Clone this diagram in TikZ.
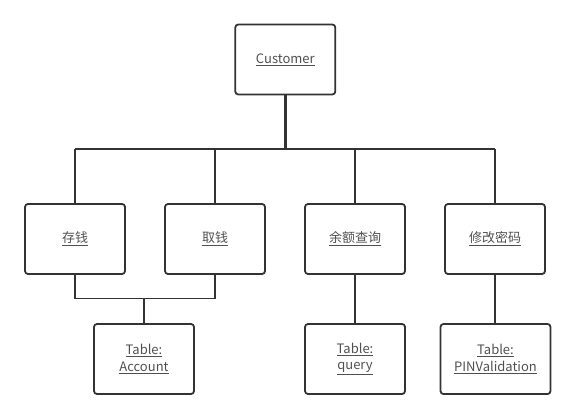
\documentclass[tikz,border=0pt]{standalone}
\usepackage{fontspec}
\setmainfont{Noto Sans CJK SC}
\definecolor{linec}{HTML}{333333}
\definecolor{textc}{HTML}{505050}
\newcommand{\ul}[1]{\underline{#1}}
\begin{document}
\begin{tikzpicture}[x=1pt,y=-1pt,
  box/.style={draw=linec,line width=1.8pt,rounded corners=3pt,minimum width=100pt,minimum height=70pt,inner sep=0pt,text=textc,font=\fontsize{13}{16.5}\selectfont,align=center,anchor=center},
  conn/.style={draw=linec,line width=1.6pt},
  stem/.style={draw=linec,line width=2.6pt}]
\useasboundingbox (0,0) rectangle (575,419);
\node[box] (cust) at (285.3,59.5) {\ul{Customer}};
\node[box] (cq) at (75,239) {\ul{存钱}};
\node[box] (qq) at (215,239) {\ul{取钱}};
\node[box] (ye) at (355,239) {\ul{余额查询}};
\node[box] (xg) at (495,239) {\ul{修改密码}};
\node[box] (acc) at (144,359) {\ul{Table:}\\\ul{Account}};
\node[box] (qry) at (355,359) {\ul{Table:}\\\ul{query}};
\node[box,minimum width=110pt] (pin) at (495.5,359) {\ul{Table:}\\\ul{PINValidation}};
\coordinate (bus) at (285.3,149);
\coordinate (busL) at (75,149);
\coordinate (busR) at (495,149);
\coordinate (join) at (144,298.5);
\draw[stem] (cust.south) -- (bus);
\draw[conn] (busL) -- (busR);
\draw[conn] (cq.north) -- (cq.north |- bus);
\draw[conn] (qq.north) -- (qq.north |- bus);
\draw[conn] (ye.north) -- (ye.north |- bus);
\draw[conn] (xg.north) -- (xg.north |- bus);
\draw[conn] (cq.south) -- (cq.south |- join) -- (qq.south |- join) -- (qq.south);
\draw[conn] (join) -- (acc.north);
\draw[conn] (ye.south) -- (qry.north);
\draw[conn] (xg.south) -- (xg.south |- pin.north);
\end{tikzpicture}
\end{document}
